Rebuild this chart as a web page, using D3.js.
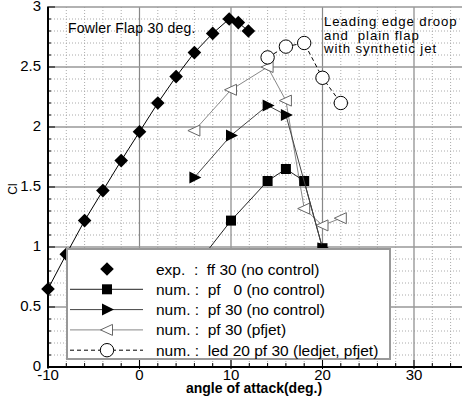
<!DOCTYPE html>
<html>
<head>
<meta charset="utf-8">
<script src="https://cdn.jsdelivr.net/npm/d3@7"></script>
<style>
  body { margin: 0; background: #fff; }
  text { font-family: "Liberation Sans", Arial, sans-serif; fill: #000; }
</style>
</head>
<body>
<div id="chart"></div>
<script>
// Data
const expAlpha = [-10, -8, -6, -4, -2, 0, 2, 4, 6, 8, 9.8, 10.8, 11.9];
const expCl = [0.65, 0.94, 1.22, 1.47, 1.72, 1.96, 2.2, 2.42, 2.62, 2.78, 2.9, 2.87, 2.8];

const pf0Alpha = [6, 10, 14, 16, 18, 20];
const pf0Cl = [0.83, 1.22, 1.55, 1.65, 1.55, 0.99];

const pf30Alpha = [6, 10, 14, 16, 20];
const pf30Cl = [1.58, 1.93, 2.18, 2.1, 0.99];

const pfjetAlpha = [6, 10, 14, 16, 18, 20, 22];
const pfjetCl = [1.97, 2.31, 2.5, 2.22, 1.32, 1.18, 1.24];

const ledAlpha = [14, 16, 18, 20, 22];
const ledCl = [2.58, 2.67, 2.7, 2.41, 2.2];

const xTicks = [-10, 0, 10, 20, 30];
const yTicks = [0, 0.5, 1, 1.5, 2, 2.5, 3];

const legendLabels = [
    "exp.  :  ff 30 (no control)",
    "num. :  pf   0 (no control)",
    "num. :  pf 30 (no control)",
    "num. :  pf 30 (pfjet)",
    "num. :  led 20 pf 30 (ledjet, pfjet)"
];

// Set dimensions
let width = 462,
    height = 399;

let x = d3.scaleLinear().domain([-10, 35]).range([48, 459.75]);
let y = d3.scaleLinear().domain([0, 3]).range([367, 7]);

let svg = d3.select("#chart")
    .append("svg")
        .attr("width", width)
        .attr("height", height);

// Grid
let grid = svg.append("g");
grid.selectAll(".vminor")
    .data(d3.range(-8, 35, 2).filter(v => v % 10 !== 0))
    .join("line")
        .attr("x1", d => x(d)).attr("x2", d => x(d))
        .attr("y1", y(3)).attr("y2", y(0))
        .attr("stroke", "#aaa")
        .attr("stroke-dasharray", "1,2");
grid.selectAll(".hminor")
    .data(d3.range(1, 30).filter(v => v % 5 !== 0).map(v => v / 10))
    .join("line")
        .attr("x1", x(-10)).attr("x2", width)
        .attr("y1", d => y(d)).attr("y2", d => y(d))
        .attr("stroke", "#aaa")
        .attr("stroke-dasharray", "1,2");
grid.selectAll(".vmajor")
    .data([0, 10, 20, 30])
    .join("line")
        .attr("x1", d => x(d)).attr("x2", d => x(d))
        .attr("y1", y(3)).attr("y2", y(0))
        .attr("stroke", "#888")
        .attr("stroke-width", 1.2);
grid.selectAll(".hmajor")
    .data([0.5, 1, 1.5, 2, 2.5, 3])
    .join("line")
        .attr("x1", x(-10)).attr("x2", width)
        .attr("y1", d => y(d)).attr("y2", d => y(d))
        .attr("stroke", "#999")
        .attr("stroke-width", 1.5);

// Marker shapes
const shapes = {
    diamond: "M0,-6.8L6.8,0L0,6.8L-6.8,0Z",
    square: "M-5,-5L5,-5L5,5L-5,5Z",
    tri: "M-5,-6L7,0L-5,6Z",
    ltri: "M-6.5,0L5.5,-5.5L5.5,5.5Z"
};

let series = [
    { a: expAlpha, c: expCl, line: "#000", dash: null, shape: "diamond", fill: "#000", stroke: "none" },
    { a: pf0Alpha, c: pf0Cl, line: "#222", dash: null, shape: "square", fill: "#000", stroke: "none" },
    { a: pf30Alpha, c: pf30Cl, line: "#444", dash: null, shape: "tri", fill: "#000", stroke: "none" },
    { a: pfjetAlpha, c: pfjetCl, line: "#888", dash: null, shape: "ltri", fill: "#fff", stroke: "#666" },
    { a: ledAlpha, c: ledCl, line: "#000", dash: "4,3", shape: "circle", fill: "#fff", stroke: "#000" }
];

let lineGen = d3.line().x(d => x(d[0])).y(d => y(d[1]));

let drawMarker = (g, s, px, py) => {
    if (s.shape === "circle") {
        g.append("circle")
            .attr("cx", px).attr("cy", py).attr("r", 6.7)
            .attr("fill", s.fill).attr("stroke", s.stroke);
    } else {
        g.append("path")
            .attr("d", shapes[s.shape])
            .attr("transform", `translate(${px},${py})`)
            .attr("fill", s.fill)
            .attr("stroke", s.stroke);
    }
};

// Order so that the open triangles and circles end up over the black ones
[0, 3, 1, 2, 4].forEach(i => {
    let s = series[i];
    let pts = s.a.map((a, j) => [a, s.c[j]]);
    let g = svg.append("g");
    g.append("path")
        .attr("d", lineGen(pts))
        .attr("fill", "none")
        .attr("stroke", s.line)
        .attr("stroke-width", 1)
        .attr("stroke-dasharray", s.dash);
    pts.forEach(p => drawMarker(g, s, x(p[0]), y(p[1])));
});

// Annotations
svg.append("text")
    .attr("x", 68).attr("y", 33)
    .attr("font-size", 14)
    .attr("letter-spacing", 0.2)
    .text("Fowler Flap 30 deg.");
svg.append("text")
    .attr("x", 324).attr("y", 26)
    .attr("font-size", 13.2)
    .attr("letter-spacing", 0.9)
    .selectAll("tspan")
    .data(["Leading edge droop", "and  plain flap", "with synthetic jet"])
    .join("tspan")
        .attr("x", 324)
        .attr("dy", (d, i) => i === 0 ? 0 : 13.6)
        .style("white-space", "pre")
        .text(d => d);

// Legend
let legend = svg.append("g");
legend.append("rect")
    .attr("x", 67).attr("y", 249)
    .attr("width", 323).attr("height", 110)
    .attr("fill", "#fff")
    .attr("stroke", "#999")
    .attr("stroke-width", 2);
legendLabels.forEach((label, i) => {
    let s = series[i];
    let ly = 269 + i * 20.3;
    if (i > 0) {
        legend.append("line")
            .attr("x1", 70).attr("x2", 143)
            .attr("y1", ly).attr("y2", ly)
            .attr("stroke", s.line)
            .attr("stroke-dasharray", s.dash);
    }
    drawMarker(legend, s, 107, ly);
    legend.append("text")
        .attr("x", 156).attr("y", ly)
        .attr("dy", "0.36em")
        .attr("font-size", 15.5)
        .style("white-space", "pre")
        .text(label);
});

// Axes
let axes = svg.append("g");
axes.append("line")
    .attr("x1", x(-10)).attr("x2", width)
    .attr("y1", y(0)).attr("y2", y(0))
    .attr("stroke", "#000").attr("stroke-width", 2);
axes.append("line")
    .attr("x1", x(-10)).attr("x2", x(-10))
    .attr("y1", y(3)).attr("y2", y(0) + 1)
    .attr("stroke", "#000").attr("stroke-width", 2);

axes.selectAll(".xt")
    .data(d3.range(-10, 35, 2))
    .join("line")
        .attr("x1", d => x(d)).attr("x2", d => x(d))
        .attr("y1", d => y(0) - (d % 10 === 0 ? 7 : 4))
        .attr("y2", d => y(0) + (d % 10 === 0 ? 2 : 0))
        .attr("stroke", "#000");
axes.selectAll(".yt")
    .data(d3.range(0, 31).map(v => v / 10))
    .join("line")
        .attr("x1", x(-10) - 1)
        .attr("x2", (d, i) => x(-10) + (i % 5 === 0 ? 7 : 3))
        .attr("y1", d => y(d)).attr("y2", d => y(d))
        .attr("stroke", "#000");

axes.selectAll(".xl")
    .data(xTicks)
    .join("text")
        .attr("x", d => x(d))
        .attr("y", 380)
        .attr("text-anchor", "middle")
        .attr("font-size", 15)
        .text(d => d);
axes.selectAll(".yl")
    .data(yTicks)
    .join("text")
        .attr("x", 41)
        .attr("y", d => y(d) - 1)
        .attr("dy", "0.36em")
        .attr("text-anchor", "end")
        .attr("font-size", 15)
        .text(d => d);

svg.append("text")
    .attr("x", 254).attr("y", 393)
    .attr("text-anchor", "middle")
    .attr("font-size", 14)
    .attr("font-weight", "bold")
    .text("angle of attack(deg.)");
svg.append("text")
    .attr("transform", "translate(17,189) rotate(-90)")
    .attr("text-anchor", "middle")
    .attr("font-size", 12)
    .text("Cl");
</script>
</body>
</html>
